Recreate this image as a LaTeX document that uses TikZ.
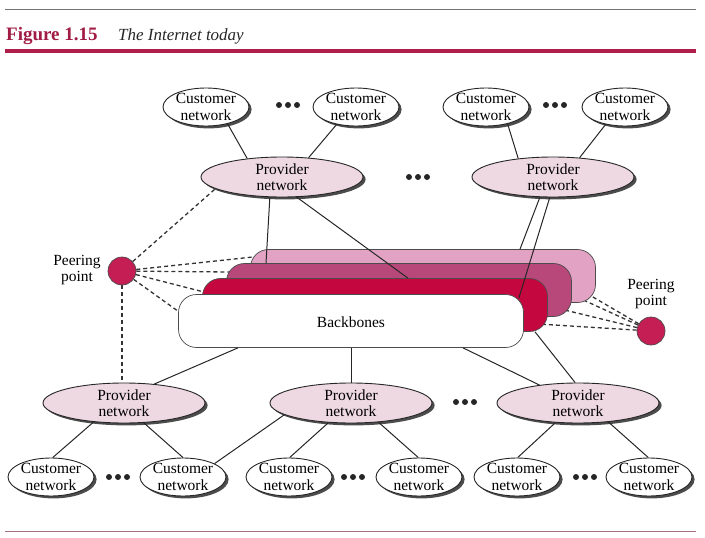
\documentclass[tikz,border=0pt]{standalone}
\usepackage{fontspec}
\setmainfont{Liberation Serif}
\usetikzlibrary{shapes.geometric,calc}
\pgfdeclarelayer{background}
\pgfsetlayers{background,main}
\definecolor{crim}{HTML}{C5073F}
\definecolor{mauve}{HTML}{B8487A}
\definecolor{pinkl}{HTML}{E2A2C3}
\definecolor{provfill}{HTML}{EED8E2}
\definecolor{peerc}{HTML}{C41E55}
\definecolor{titlec}{HTML}{A11C44}
\definecolor{rulec}{HTML}{B01E4C}
\begin{document}
\begin{tikzpicture}[x=1pt,y=-1pt,
  cust/.style={ellipse, draw=black!85, line width=0.9pt, fill=white,
    minimum width=86pt, minimum height=38pt, inner xsep=-4pt, inner ysep=-4.5pt,
    align=center, font=\fontsize{15.5}{16.5}\selectfont,
    preaction={fill=black!70, transform canvas={xshift=2.6pt,yshift=-2.4pt}}},
  prov/.style={cust, fill=provfill, minimum width=162pt, minimum height=40pt},
  layer/.style={rectangle, rounded corners=18pt, draw=black!70, line width=0.7pt,
    minimum width=345pt, minimum height=53pt, inner sep=0pt},
  peer/.style={circle, fill=peerc, draw=black!70, line width=0.7pt, minimum size=28pt, inner sep=0pt},
  lbl/.style={align=center, font=\fontsize{15.5}{16.5}\selectfont, inner sep=0pt},
  conn/.style={black!85, line width=1pt},
  dconn/.style={black!80, line width=1.3pt, dash pattern=on 4pt off 3pt},
  tridots/.pic={\foreach \i in {-9,0,9} \fill[black!85] (\i,0) circle (3pt);}
]
\useasboundingbox (0,0) rectangle (705,538);
% rules and title
\draw[black!55, line width=0.8pt] (5,9) -- (696,9);
\node[anchor=base west, inner sep=0pt, text=titlec, font=\fontsize{19}{19}\selectfont\bfseries] (fig) at (6,41) {Figure 1.15};
\node[anchor=base west, inner sep=0pt, text=black!85, font=\fontsize{17}{17}\selectfont\itshape] (cap) at (118,41) {The Internet today};
\draw[rulec, line width=3.5pt] (5,51) -- (696,51);
\draw[rulec!60!black!60, line width=1pt] (5,531) -- (696,531);

% top customers and providers
\node[cust] (C1) at (206,107) {Customer\\network};
\node[cust] (C2) at (356,107) {Customer\\network};
\node[cust] (C3) at (486,107) {Customer\\network};
\node[cust] (C4) at (625,107) {Customer\\network};
\pic at (288,105) {tridots};
\pic at (555,105) {tridots};
\node[prov] (P1) at (282,177) {Provider\\network};
\node[prov] (P2) at (553,177) {Provider\\network};
\pic at (418,177) {tridots};

% backbones
\node[layer, fill=pinkl] (back) at (423,276) {};
\node[layer, fill=mauve] (mid) at (399,290) {};
\node[layer, fill=crim] (crimson) at (375,305) {};
\node[layer, fill=white] (white) at (351,321) {};
\node[font=\fontsize{15.5}{17}\selectfont, inner sep=0pt] (bbtext) at (351,322) {Backbones};

% peering points
\node[peer] (L) at (122,271) {};
\node[lbl] (Llab) at (77,270) {Peering\\point};
\node[peer] (R) at (651,331) {};
\node[lbl] (Rlab) at (651,294) {Peering\\point};

% bottom providers and customers
\node[prov] (P3) at (124,403) {Provider\\network};
\node[prov] (P4) at (351,403) {Provider\\network};
\node[prov] (P5) at (578,403) {Provider\\network};
\pic at (465,402) {tridots};
\node[cust] (C5) at (51,477) {Customer\\network};
\node[cust] (C6) at (183,477) {Customer\\network};
\node[cust] (C7) at (289,477) {Customer\\network};
\node[cust] (C8) at (419,477) {Customer\\network};
\node[cust] (C9) at (517,477) {Customer\\network};
\node[cust] (C10) at (649,477) {Customer\\network};
\pic at (118,477) {tridots};
\pic at (353,477) {tridots};
\pic at (585,477) {tridots};

% dashed peering links (behind)
\begin{pgfonlayer}{background}
\draw[dconn] (L) -- (P1.190);
\draw[dconn] (L) -- ([xshift=20pt,yshift=-6pt]back.north west);
\draw[dconn] (L) -- ([xshift=18pt,yshift=-9pt]mid.north west);
\draw[dconn] (L) -- ([xshift=18pt,yshift=-18pt]crimson.north west);
\draw[dconn] (L) -- ([xshift=18pt,yshift=-30pt]white.north west);
\draw[dconn] (L) -- (L |- P3.north);
\draw[dconn] (R) -- ([xshift=-10pt,yshift=10pt]back.south east);
\draw[dconn] (R) -- ([xshift=-15pt,yshift=4pt]back.south east);
\draw[dconn] (R) -- ([xshift=-12pt,yshift=8pt]mid.south east);
\draw[dconn] (R) -- ([xshift=-12pt,yshift=8pt]crimson.south east);
\end{pgfonlayer}

% solid links
\draw[conn] (C1.-38) -- (P1.152);
\draw[conn] (C2.-138) -- (P1.36);
\draw[conn] (C3.-38) -- (P2.152);
\draw[conn] (C4.-138) -- (P2.36);
\draw[conn] (P1.-121) -- ([xshift=-133pt]mid.north);
\draw[conn] (P1.-54) -- ([xshift=33pt]crimson.north);
\draw[conn] (P2.-123) -- ([xshift=97pt]back.north);
\draw[conn] (P2.-99) -- ([xshift=-5pt,yshift=-4pt]white.north east);
\draw[conn] ([xshift=-113pt]white.south) -- (P3.32);
\draw[conn] (white.south) -- (P4.north);
\draw[conn] ([xshift=112pt]white.south) -- (P5.155);
\draw[conn] ([xshift=160pt]crimson.south) -- (P5.98);
\draw[conn] (P3.-148) -- (C5.85);
\draw[conn] (P3.-45) -- (C6.90);
\draw[conn] (P4.-170) -- (C6.23);
\draw[conn] (P4.-139) -- (C7.88);
\draw[conn] (P4.-35) -- (C8.92);
\draw[conn] (P5.-139) -- (C9.88);
\draw[conn] (P5.-32) -- (C10.92);
\end{tikzpicture}
\end{document}
